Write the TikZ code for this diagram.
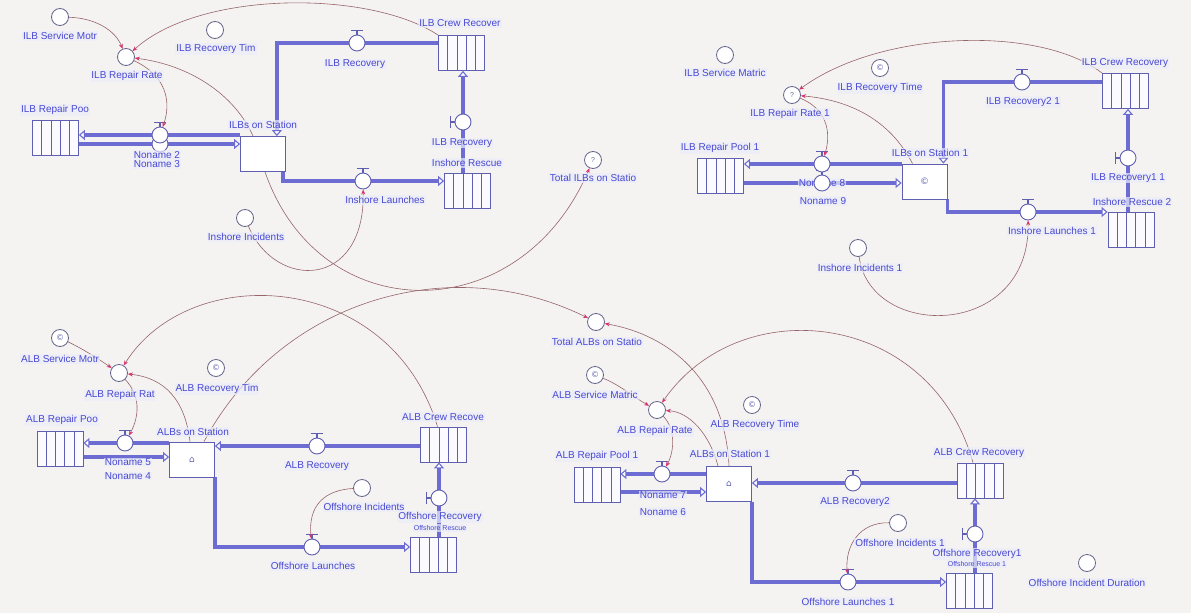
\documentclass[tikz,border=0pt]{standalone}
\usepackage{fontspec}
\setmainfont{Liberation Sans}
\newfontfamily\symfont{DejaVu Sans}
\usetikzlibrary{arrows.meta,calc}

\definecolor{bgc}{RGB}{244,243,241}
\definecolor{flowc}{RGB}{108,108,210}
\definecolor{stockc}{RGB}{95,95,178}
\definecolor{lblc}{RGB}{72,72,210}
\definecolor{lblbg}{RGB}{236,237,250}
\definecolor{auxc}{RGB}{100,100,140}
\definecolor{connc}{RGB}{150,100,105}
\definecolor{tipc}{RGB}{215,50,110}
\definecolor{stockfill}{RGB}{250,250,255}

\pgfdeclarelayer{bg}
\pgfdeclarelayer{pipes}
\pgfsetlayers{bg,pipes,main}

\tikzset{
  aux/.style={circle, draw=auxc, fill=white, line width=0.8pt, minimum size=17pt,
    inner sep=0pt, font=\fontsize{7}{7}\selectfont, text=auxc},
  const/.style={aux, font=\symfont\fontsize{8}{8}\selectfont, text=stockc},
  valve/.style={circle, draw=stockc, fill=white, line width=0.9pt, minimum size=16pt, inner sep=0pt},
  handle/.style={draw=stockc, line width=1.8pt},
  stock/.style={rectangle, draw=stockc, fill=stockfill, line width=0.8pt,
    minimum width=46pt, minimum height=35pt, inner sep=0pt,
    path picture={\foreach \k in {1,2,3,4}{
      \draw[stockc, line width=0.6pt]
        ($(path picture bounding box.south west)!\k/5!(path picture bounding box.south east)$)
        -- ++(0pt,40pt);}}},
  stbox/.style={rectangle, draw=stockc, fill=white, line width=0.8pt,
    minimum width=45pt, minimum height=35pt, inner sep=0pt,
    font=\symfont\fontsize{9}{9}\selectfont, text=stockc},
  lbl/.style={font=\fontsize{10}{11}\selectfont, text=lblc, fill=lblbg,
    fill opacity=0.7, text opacity=1, inner sep=1pt},
  lblsm/.style={lbl, font=\fontsize{7}{8}\selectfont},
  pipe/.style={draw=flowc, line width=3.2pt,
    -{Triangle[length=6pt, width=10pt, line width=1.1pt, fill=white]}},
  conn/.style={draw=connc, line width=0.6pt,
    -{Stealth[length=5pt, width=4pt, color=tipc]}},
}

% flow valve with its handle above (horizontal flow) or to the left (vertical flow)
\newcommand{\valveH}[2]{\node[valve] (#1) at (#2) {};
  \draw[handle] (#1.north) -- ++(0,-4) ++(-6,0) -- ++(12,0);}
\newcommand{\valveV}[2]{\node[valve] (#1) at (#2) {};
  \draw[handle] (#1.west) -- ++(-4,0) ++(0,-6) -- ++(0,12);}

\begin{document}
\begin{tikzpicture}[x=1pt, y=-1pt]
\useasboundingbox (0,0) rectangle (1191,613);
\begin{pgfonlayer}{bg}
  \fill[bgc] (0,0) rectangle (1191,613);
\end{pgfonlayer}

% ---------- ILB sector ----------
\node[aux] (ilbsvc) at (60,17) {};
\node[aux] (ilbrr) at (126,57) {};
\node[aux] (ilbrt) at (215,30) {};
\node[stock] (ilbpool) at (55.5,138) {};
\node[stbox] (ilbst) at (263,154) {};
\node[stock] (ilbcrew) at (461.5,53) {};
\node[stock] (inres) at (467.5,191) {};
\node[aux] (ininc) at (245,218) {};
\node[aux] (totilb) at (593,160) {?};
\valveH{nn3}{160,144}
\valveH{nn2}{160,135}
\valveH{ilbrec}{357,43}
\valveV{ilbrecv}{463,122}
\valveH{inl}{363,181}

% ---------- ILB sector 1 ----------
\node[aux] (ilbsvc1) at (725,55) {};
\node[const] (ilbrt1) at (880,68) {©};
\node[aux] (ilbrr1) at (792,95) {?};
\node[stock] (ilbpool1) at (720.5,176) {};
\node[stbox] (ilbst1) at (924.5,181.5) {©};
\node[stock] (ilbcrew1) at (1125.5,91) {};
\node[stock] (inres2) at (1131,229.5) {};
\node[aux] (ininc1) at (858,248) {};
\valveH{nn9}{822,183}
\valveH{nn8}{822,164}
\valveH{ilbrec21}{1022,82}
\valveV{ilbrec11}{1128,158}
\valveH{inl1}{1028,212}

% ---------- ALB sector ----------
\node[const] (albsvc) at (60,338) {©};
\node[aux] (albrr) at (119,373) {};
\node[const] (albrt) at (216,368) {©};
\node[stock] (albpool) at (60,448.5) {};
\node[stbox] (albst) at (192,459.5) {⌂};
\node[stock] (albcrew) at (443.5,444.5) {};
\node[stock] (offres) at (433.5,554.5) {};
\node[aux] (offinc) at (362,488) {};
\coordinate (nn4) at (125,457);
\valveH{nn5}{125,443}
\valveH{albrec}{317,446}
\valveV{offrec}{439,498}
\valveH{offl}{312,547}

% ---------- ALB sector 1 ----------
\node[aux] (totalb) at (596,322) {};
\node[const] (albsvc1) at (595,375) {©};
\node[aux] (albrr1) at (657,410) {};
\node[const] (albrt1) at (752,405) {©};
\node[stock] (albpool1) at (597,484.5) {};
\node[stbox] (albst1) at (729,484) {⌂};
\node[stock] (albcrew1) at (980,480.5) {};
\node[stock] (offres1) at (969.5,590.5) {};
\node[aux] (offinc1) at (898,523) {};
\node[aux] (offdur) at (1087,563) {};
\coordinate (nn6) at (662,492);
\valveH{nn7}{662,474}
\valveH{albrec2}{853,483}
\valveV{offrec1}{975,534}
\valveH{offl1}{848,582}

% ---------- flow pipes ----------
\begin{pgfonlayer}{pipes}
  \draw[pipe] (ilbst.west |- nn2) -- (nn2) -- (ilbpool.east |- nn2);
  \draw[pipe] (ilbpool.east |- nn3) -- (nn3) -- (ilbst.west |- nn3);
  \draw[pipe] (ilbcrew.west |- ilbrec) -- (ilbrec) -| ([xshift=-9pt]ilbst.north east);
  \draw[pipe] (inres.north -| ilbrecv) -- (ilbrecv) -- (ilbcrew.south -| ilbrecv);
  \draw[pipe] ([xshift=-3pt]ilbst.south east) |- (inl) -- (inres.west |- inl);

  \draw[pipe] (ilbst1.west |- nn8) -- (nn8) -- (ilbpool1.east |- nn8);
  \draw[pipe] (ilbpool1.east |- nn9) -- (nn9) -- (ilbst1.west |- nn9);
  \draw[pipe] (ilbcrew1.west |- ilbrec21) -- (ilbrec21) -| ([xshift=-4pt]ilbst1.north east);
  \draw[pipe] (inres2.north -| ilbrec11) -- (ilbrec11) -- (ilbcrew1.south -| ilbrec11);
  \draw[pipe] (ilbst1.south east) |- (inl1) -- (inres2.west |- inl1);

  \draw[pipe] (albst.west |- nn5) -- (nn5) -- (albpool.east |- nn5);
  \draw[pipe] (albpool.east |- nn4) -- (albst.west |- nn4);
  \draw[pipe] (albcrew.west |- albrec) -- (albrec) -- (albst.east |- albrec);
  \draw[pipe] (offres.north -| offrec) -- (offrec) -- (albcrew.south -| offrec);
  \draw[pipe] (albst.south east) |- (offl) -- (offres.west |- offl);

  \draw[pipe] (albst1.west |- nn7) -- (nn7) -- (albpool1.east |- nn7);
  \draw[pipe] (albpool1.east |- nn6) -- (albst1.west |- nn6);
  \draw[pipe] (albcrew1.west |- albrec2) -- (albrec2) -- (albst1.east |- albrec2);
  \draw[pipe] (offres1.north -| offrec1) -- (offrec1) -- (albcrew1.south -| offrec1);
  \draw[pipe] (albst1.south east) |- (offl1) -- (offres1.west |- offl1);

  \node[lbl] (l-nn8) at (822,183) {Noname 8};
\end{pgfonlayer}

% ---------- connectors ----------
\draw[conn] (ilbsvc) .. controls (95,18) and (115,30) .. (ilbrr);
\draw[conn] (ilbcrew.north west) .. controls (370,-10) and (200,-10) .. (ilbrr);
\draw[conn] ([xshift=-10pt]ilbst.north) .. controls (235,95) and (190,65) .. (ilbrr);
\draw[conn] (ilbrr) .. controls (165,75) and (172,100) .. (nn2);
\draw[conn] ([xshift=2pt]ilbst.south) .. controls (320,330) and (520,330) .. (totilb);
\draw[conn] (ininc) .. controls (275,290) and (365,290) .. (inl);

\draw[conn] (ilbcrew1.north west) .. controls (1040,25) and (880,30) .. (ilbrr1);
\draw[conn] ([xshift=-12pt]ilbst1.north) .. controls (890,120) and (850,100) .. (ilbrr1);
\draw[conn] (ilbrr1) .. controls (825,108) and (832,130) .. (nn8);
\draw[conn] (ininc1) .. controls (870,340) and (1030,340) .. (inl1);

\draw[conn] (albsvc) .. controls (85,350) and (100,360) .. (albrr);
\draw[conn] ([xshift=-6pt]albcrew.north) .. controls (390,270) and (190,260) .. (albrr);
\draw[conn] ([xshift=-2pt]albst.north) .. controls (185,400) and (165,378) .. (albrr);
\draw[conn] (albrr) .. controls (140,395) and (140,415) .. (nn5);
\draw[conn] ([xshift=12pt]albst.north) .. controls (280,300) and (450,250) .. (totalb);
\draw[conn] (offinc) .. controls (325,490) and (308,505) .. (offl);

\draw[conn] (albsvc1) .. controls (620,385) and (635,398) .. (albrr1);
\draw[conn] ([xshift=-7pt]albcrew1.north) .. controls (930,310) and (740,290) .. (albrr1);
\draw[conn] ([xshift=-11pt]albst1.north) .. controls (710,435) and (690,412) .. (albrr1);
\draw[conn] (albrr1) .. controls (675,428) and (675,450) .. (nn7);
\draw[conn] (albst1.north) .. controls (725,380) and (670,335) .. (totalb);
\draw[conn] (offinc1) .. controls (860,522) and (845,545) .. (offl1);

% ---------- labels ----------
\node[lbl] (l-ilbsvc) at (60,36) {ILB Service Motr};
\node[lbl] (l-ilbrr) at (127,76) {ILB Repair Rate};
\node[lbl] (l-ilbrt) at (216,49) {ILB Recovery Tim};
\node[lbl] (l-ilbpool) at (55,110) {ILB Repair Poo};
\node[lbl] (l-nn2) at (157,155) {Noname 2};
\node[lbl] (l-nn3) at (157,164) {Noname 3};
\node[lbl] (l-ilbst) at (263,125) {ILBs on Station};
\node[lbl] (l-ilbrec) at (355,64) {ILB Recovery};
\node[lbl] (l-ilbcrew) at (460,23) {ILB Crew Recover};
\node[lbl] (l-ilbrecv) at (462,143) {ILB Recovery};
\node[lbl] (l-inres) at (467,163) {Inshore Rescue};
\node[lbl] (l-inl) at (385,200) {Inshore Launches};
\node[lbl] (l-ininc) at (246,237) {Inshore Incidents};
\node[lbl] (l-totilb) at (593,178) {Total ILBs on Statio};

\node[lbl] (l-ilbsvc1) at (725,73) {ILB Service Matric};
\node[lbl] (l-ilbrt1) at (880,88) {ILB Recovery Time};
\node[lbl] (l-ilbrr1) at (790,114) {ILB Repair Rate 1};
\node[lbl] (l-ilbpool1) at (720,148) {ILB Repair Pool 1};
\node[lbl] (l-nn9) at (823,201) {Noname 9};
\node[lbl] (l-ilbst1) at (930,153) {ILBs on Station 1};
\node[lbl] (l-ilbrec21) at (1023,102) {ILB Recovery2 1};
\node[lbl] (l-ilbcrew1) at (1125,63) {ILB Crew Recovery};
\node[lbl] (l-ilbrec11) at (1128,178) {ILB Recovery1 1};
\node[lbl] (l-inres2) at (1132,202) {Inshore Rescue 2};
\node[lbl] (l-inl1) at (1052,231) {Inshore Launches 1};
\node[lbl] (l-ininc1) at (860,268) {Inshore Incidents 1};

\node[lbl] (l-albsvc) at (60,359) {ALB Service Motr};
\node[lbl] (l-albrr) at (120,395) {ALB Repair Rat};
\node[lbl] (l-albrt) at (217,389) {ALB Recovery Tim};
\node[lbl] (l-albpool) at (62,420) {ALB Repair Poo};
\node[lbl] (l-nn5) at (128,462) {Noname 5};
\node[lbl] (l-nn4) at (128,476) {Noname 4};
\node[lbl] (l-albst) at (193,432) {ALBs on Station};
\node[lbl] (l-albrec) at (317,466) {ALB Recovery};
\node[lbl] (l-albcrew) at (443,417) {ALB Crew Recove};
\node[lbl] (l-offrec) at (440,517) {Offshore Recovery};
\node[lblsm] (l-offres) at (440,528) {Offshore Rescue};
\node[lbl] (l-offl) at (313,566) {Offshore Launches};
\node[lbl] (l-offinc) at (364,507) {Offshore Incidents};

\node[lbl] (l-totalb) at (597,342) {Total ALBs on Statio};
\node[lbl] (l-albsvc1) at (595,395) {ALB Service Matric};
\node[lbl] (l-albrr1) at (655,431) {ALB Repair Rate};
\node[lbl] (l-albrt1) at (755,425) {ALB Recovery Time};
\node[lbl] (l-albpool1) at (597,456) {ALB Repair Pool 1};
\node[lbl] (l-nn7) at (663,495) {Noname 7};
\node[lbl] (l-nn6) at (663,512) {Noname 6};
\node[lbl] (l-albst1) at (730,454) {ALBs on Station 1};
\node[lbl] (l-albrec2) at (855,502) {ALB Recovery2};
\node[lbl] (l-albcrew1) at (979,453) {ALB Crew Recovery};
\node[lbl] (l-offrec1) at (977,554) {Offshore Recovery1};
\node[lblsm] (l-offres1) at (977,564) {Offshore Rescue 1};
\node[lbl] (l-offl1) at (848,602) {Offshore Launches 1};
\node[lbl] (l-offinc1) at (900,543) {Offshore Incidents 1};
\node[lbl] (l-offdur) at (1087,583) {Offshore Incident Duration};
\end{tikzpicture}
\end{document}
